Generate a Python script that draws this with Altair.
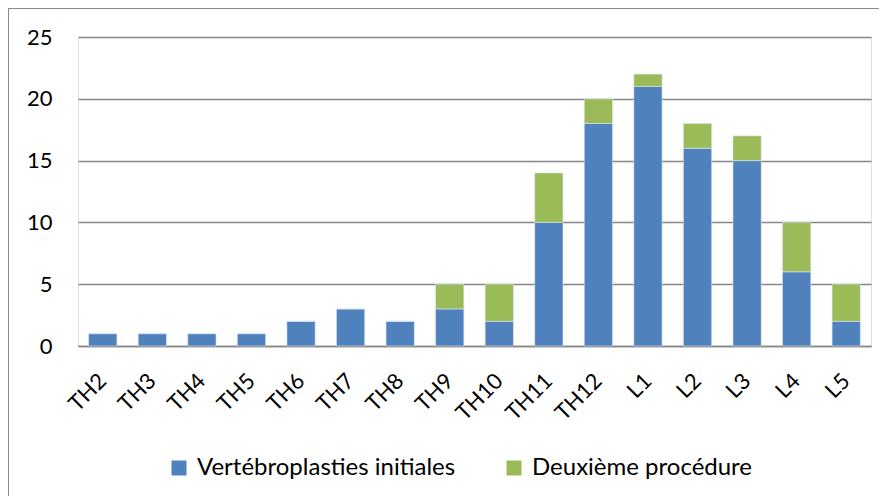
import altair as alt
import pandas as pd

levels = ["TH2", "TH3", "TH4", "TH5", "TH6", "TH7", "TH8", "TH9", "TH10",
          "TH11", "TH12", "L1", "L2", "L3", "L4", "L5"]
initiales = [1, 1, 1, 1, 2, 3, 2, 3, 2, 10, 18, 21, 16, 15, 6, 2]
deuxieme = [0, 0, 0, 0, 0, 0, 0, 2, 3, 4, 2, 1, 2, 2, 4, 3]
series = ["Vertébroplasties initiales", "Deuxième procédure"]
colors = ["#4F81BD", "#9BBB59"]
y_ticks = [0, 5, 10, 15, 20, 25]

rows = []
for lv, a, b in zip(levels, initiales, deuxieme):
    rows.append({"niveau": lv, "serie": series[0], "valeur": a, "ordre": 0})
    rows.append({"niveau": lv, "serie": series[1], "valeur": b, "ordre": 1})
df = pd.DataFrame(rows)

FONT = "Lato"

bars = alt.Chart(df).mark_bar(stroke="#DCE6F2", strokeWidth=0.6).encode(
    x=alt.X("niveau:N", sort=levels, title=None,
            scale=alt.Scale(paddingInner=0.43, paddingOuter=0.215),
            axis=alt.Axis(labelAngle=-45, labelAlign="right", labelBaseline="middle",
                          labelPadding=31, ticks=False, domainColor="#868686",
                          domainWidth=1.5, labelFontSize=22, labelFont=FONT,
                          labelColor="#000000")),
    y=alt.Y("valeur:Q", stack="zero", title=None,
            scale=alt.Scale(domain=[0, 25], nice=False),
            axis=alt.Axis(values=y_ticks, grid=True, gridColor="#868686", gridWidth=1.5,
                          domain=False, ticks=False, labelPadding=26, labelFontSize=22,
                          labelFont=FONT, labelColor="#000000")),
    color=alt.Color("serie:N", sort=series,
                    scale=alt.Scale(domain=series, range=colors),
                    legend=alt.Legend(title=None, orient="none", direction="horizontal",
                                      legendX=89, legendY=419, symbolType="square",
                                      symbolSize=225, symbolStrokeWidth=0,
                                      labelFontSize=24, labelFont=FONT, labelLimit=0,
                                      labelColor="#000000", columnPadding=46,
                                      labelOffset=6)),
    order=alt.Order("ordre:Q", sort="ascending"),
)

frame_top = alt.Chart(pd.DataFrame({"k": [0]})).mark_rule(color="#898989", strokeWidth=2).encode(
    x=alt.value(-70), x2=alt.value(830), y=alt.value(-29))
frame_left = alt.Chart(pd.DataFrame({"k": [0]})).mark_rule(color="#898989", strokeWidth=2).encode(
    x=alt.value(-70), y=alt.value(-29), y2=alt.value(480))

chart = alt.layer(bars, frame_top, frame_left).properties(
    width=793, height=309,
    autosize=alt.AutoSizeParams(type="none"),
    padding={"left": 70, "top": 29, "right": 8, "bottom": 150},
).configure_view(stroke=None).configure(background="white")

chart.save("out.html", embed_options={"renderer": "svg", "actions": False})
